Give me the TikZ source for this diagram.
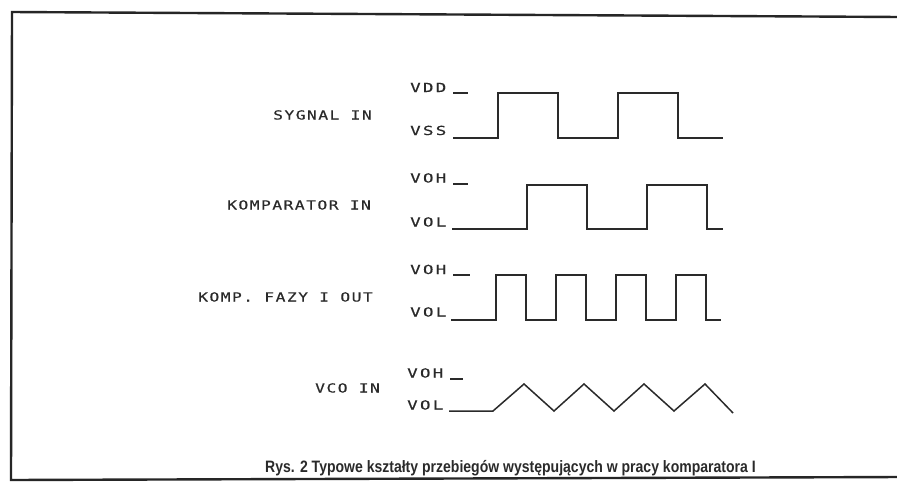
\documentclass[tikz,border=0pt]{standalone}
\usepackage{fontspec}
\newfontfamily\plotfont[LetterSpace=12,FakeStretch=1.3,FakeBold=0.4]{DejaVu Sans Mono}
\newfontfamily\levfont[LetterSpace=18,FakeStretch=1.4,FakeBold=0.4]{DejaVu Sans Mono}
\newfontfamily\capfont[FakeStretch=0.85]{Liberation Sans Bold}
\definecolor{ink}{HTML}{2A2A2A}
\begin{document}
\begin{tikzpicture}[x=1pt,y=-1pt,
  lbl/.style={anchor=base west,inner sep=0pt,text=ink,font=\plotfont\fontsize{12.5}{14}\selectfont},
  lev/.style={anchor=base west,inner sep=0pt,text=ink,font=\levfont\fontsize{12.5}{14}\selectfont},
  wave/.style={draw=ink,line width=1.5pt,line join=miter},
  tick/.style={draw=ink,line width=1.3pt},
  frame/.style={draw=ink!90!black,line width=2.4pt}]
\useasboundingbox (0,0) rectangle (897,483);
\fill[white] (0,0) rectangle (897,483);
% frame
\coordinate (ftr) at (900,17);
\coordinate (ftl) at (12,12);
\coordinate (fbl) at (11,480);
\coordinate (fbr) at (900,477);
\draw[frame] (ftr) -- (ftl) -- (fbl) -- (fbr);
% signal 1
\node[lev] (vdd) at (410,92) {VDD};
\node[lev] (vss) at (410,135) {VSS};
\node[lbl] (sig) at (273,119.5) {SYGNAL IN};
\draw[tick] (453,93) -- (468,93);
\draw[wave] (453,138) -- (498,138) -- (498,93) -- (558,93) -- (558,138) -- (618,138) -- (618,93) -- (678,93) -- (678,138) -- (723,138);
% signal 2
\node[lev] (voh1) at (410,182.5) {VOH};
\node[lev] (vol1) at (410,226.5) {VOL};
\node[lbl] (komp) at (227,209.5) {KOMPARATOR IN};
\draw[tick] (453,184) -- (468,184);
\draw[wave] (452,229) -- (527,229) -- (527,185) -- (587,185) -- (587,229) -- (647,229) -- (647,185) -- (707,185) -- (707,229) -- (723,229);
% signal 3
\node[lev] (voh2) at (410,274) {VOH};
\node[lev] (vol2) at (410,316.5) {VOL};
\node[lbl] (fazy) at (198,301.5) {KOMP. FAZY I OUT};
\draw[tick] (453,275) -- (470,275);
\draw[wave] (451,320) -- (496,320) -- (496,275) -- (526,275) -- (526,320) -- (556,320) -- (556,275) -- (586,275) -- (586,320) -- (616,320) -- (616,275) -- (646,275) -- (646,320) -- (676,320) -- (676,275) -- (706,275) -- (706,320) -- (721,320);
% signal 4
\node[lev] (voh3) at (407,377.5) {VOH};
\node[lev] (vol3) at (407,409.5) {VOL};
\node[lbl] (vco) at (315,392.5) {VCO IN};
\draw[tick] (450,379) -- (463,379);
\draw[wave] (449,411) -- (493,411) -- (524,384) -- (554,411) -- (584,384) -- (614,411) -- (644,384) -- (674,411) -- (705,384) -- (733,413);
% caption
\node[anchor=base west,inner sep=0pt,text=ink,font=\capfont\fontsize{16.5}{18}\selectfont] (cap) at (265,472) {Rys. 2 Typowe kształty przebiegów występujących w pracy komparatora I};
\end{tikzpicture}
\end{document}
